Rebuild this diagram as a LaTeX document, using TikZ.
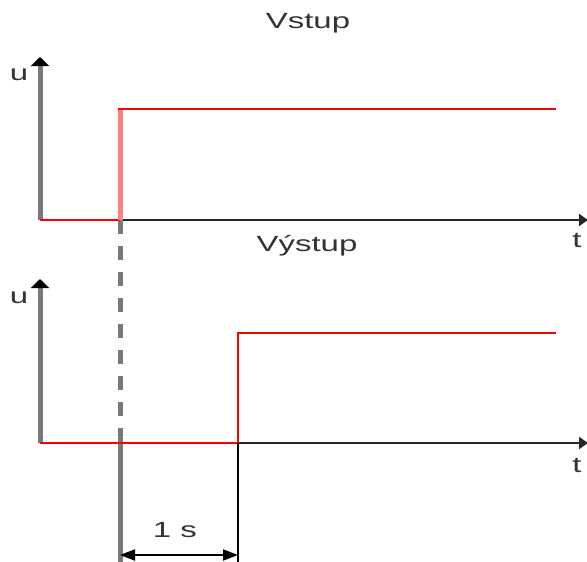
\documentclass[tikz,border=0pt]{standalone}
\usepackage{fontspec}
\setmainfont{Liberation Sans}
\usetikzlibrary{arrows.meta}
\begin{document}
\begin{tikzpicture}[x=1pt,y=-1pt,
  yaxis/.style={draw=gray!95!black,line width=5pt,-{Triangle[length=9pt,width=18pt,fill=black,color=black]}},
  taxis/.style={draw=black!85,line width=2pt,-{Triangle[length=9pt,width=12pt]}},
  signal/.style={draw=red,line width=2pt},
  edge/.style={draw=red!50,line width=5pt},
  lbl/.style={font=\fontsize{22}{24}\selectfont,text=black!80,inner sep=0pt,xscale=1.5},
  guide/.style={draw=gray!95!black,line width=5pt},
  dimline/.style={draw=black,line width=2pt,{Triangle[length=15pt,width=11pt]}-{Triangle[length=15pt,width=11pt]}}]
\useasboundingbox (0,0) rectangle (587,562);
% named points
\coordinate (o1) at (40,220);
\coordinate (y1) at (40,57);
\coordinate (s1) at (120,220);
\coordinate (h1) at (120,109);
\coordinate (e1) at (556,109);
\coordinate (t1) at (588,220);
\coordinate (o2) at (40,443);
\coordinate (y2) at (40,279);
\coordinate (s2) at (238,443);
\coordinate (h2) at (238,333);
\coordinate (e2) at (556,333);
\coordinate (t2) at (588,443);
\coordinate (d1) at (120,435);
\coordinate (g1) at (120,562);
\coordinate (g2) at (238,562);
\coordinate (a1) at (120,555);
\coordinate (a2) at (238,555);
% titles and axis labels
\node[lbl] (vin) at (308,23) {Vstup};
\node[lbl] (vout) at (307,246) {Výstup};
\node[lbl] (u1) at (19,75) {u};
\node[lbl] (u2) at (19,298) {u};
\node[lbl] (tl1) at (577,240) {t};
\node[lbl] (tl2) at (577,465) {t};
\node[lbl] (dt) at (175,530) {1 s};
% input plot
\draw[taxis] (s1) -- (t1);
\draw[guide,dash pattern=on 14pt off 12pt] (s1) -- (d1);
\draw[guide] (d1) -- (g1);
\draw[yaxis] (o1) -- (y1);
\draw[signal] (o1) -- (s1);
\draw[edge] (s1) -- (h1);
\draw[signal] ([xshift=-2.5pt]h1) -- (e1);
% output plot
\draw[taxis] (s2) -- (t2);
\draw[yaxis] (o2) -- (y2);
\draw[signal] (o2) -- (s2);
\draw[black,line width=2pt] (s2) -- (g2);
\draw[signal] (s2) -- (h2) -- (e2);
% delay dimension
\draw[dimline] (a1) -- (a2);
\end{tikzpicture}
\end{document}
